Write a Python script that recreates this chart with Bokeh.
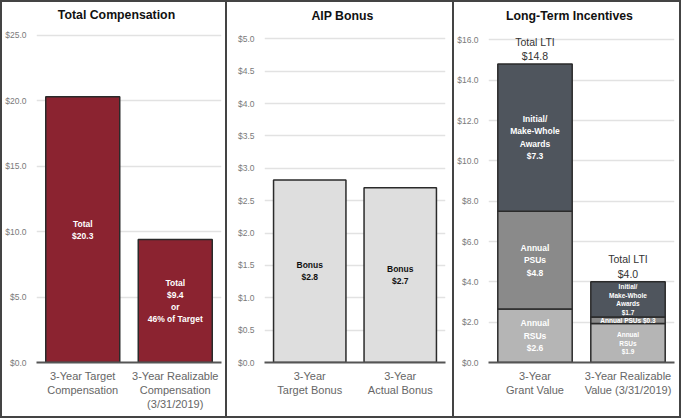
from bokeh.plotting import figure
from bokeh.layouts import row
from bokeh.models import Range1d, FixedTicker, NumeralTickFormatter, ColumnDataSource, Label, FactorRange
from bokeh.core.properties import value
from bokeh.embed import file_html
from bokeh.resources import INLINE

FONT = "Liberation Sans"

# ---- Panel 1: Total Compensation ----
comp_title = "Total Compensation"
comp_cats = ["3-Year Target\nCompensation", "3-Year Realizable\nCompensation\n(3/31/2019)"]
comp_values = [20.3, 9.4]
comp_labels = ["Total\n$20.3", "Total\n$9.4\nor\n46% of Target"]
comp_ticks = [0, 5, 10, 15, 20, 25]

# ---- Panel 2: AIP Bonus ----
aip_title = "AIP Bonus"
aip_cats = ["3-Year\nTarget Bonus", "3-Year\nActual Bonus"]
aip_values = [2.82, 2.70]
aip_labels = ["Bonus\n$2.8", "Bonus\n$2.7"]
aip_ticks = [0, 0.5, 1.0, 1.5, 2.0, 2.5, 3.0, 3.5, 4.0, 4.5, 5.0]

# ---- Panel 3: Long-Term Incentives ----
lti_title = "Long-Term Incentives"
lti_cats = ["3-Year\nGrant Value", "3-Year Realizable\nValue (3/31/2019)"]
lti_rsu = [2.65, 1.93]
lti_psu = [4.85, 0.33]
lti_initial = [7.3, 1.74]
lti_rsu_labels = ["Annual\nRSUs\n$2.6", "Annual\nRSUs\n$1.9"]
lti_psu_labels = ["Annual\nPSUs\n$4.8", "Annual PSUs $0.3"]
lti_initial_labels = ["Initial/\nMake-Whole\nAwards\n$7.3", "Initial/\nMake-Whole\nAwards\n$1.7"]
lti_total_labels = ["Total LTI\n$14.8", "Total LTI\n$4.0"]
lti_ticks = [0, 2, 4, 6, 8, 10, 12, 14, 16]

H = 418
BW = 2
BORDER = "%dpx solid #444" % BW
TITLE_Y = 13


def make_panel(title, cats, ymax, ticks, w, bl, br, top_px, bb, title_cx, first):
    inner_w = w - (2 * BW if first else BW)
    inner_h = H - 2 * BW
    frame_h = inner_h - bb
    y_end = ymax + ymax * top_px / (frame_h - top_px)
    p = figure(width=w, height=H, x_range=FactorRange(*cats), y_range=Range1d(0, y_end),
               output_backend="svg", toolbar_location=None,
               min_border_left=bl, min_border_right=br, min_border_top=0, min_border_bottom=bb)
    p.styles = ({"border": BORDER} if first else
                {"border-top": BORDER, "border-right": BORDER, "border-bottom": BORDER})
    p.outline_line_color = None
    p.x_range.range_padding = 0
    p.xgrid.grid_line_color = None
    p.ygrid.grid_line_color = "#e2e2e2"
    p.ygrid.grid_line_width = 1.5
    p.yaxis.ticker = FixedTicker(ticks=ticks)
    p.yaxis.formatter = NumeralTickFormatter(format="$0.0")
    p.yaxis.axis_line_color = None
    p.yaxis.major_tick_line_color = None
    p.yaxis.minor_tick_line_color = None
    p.yaxis.major_label_text_font = FONT
    p.yaxis.major_label_text_font_size = "8.5px"
    p.yaxis.major_label_text_color = "#7a7a7a"
    p.yaxis.major_label_standoff = 4
    p.xaxis.axis_line_color = "#555555"
    p.xaxis.axis_line_width = 2
    p.xaxis.major_tick_line_color = None
    p.xaxis.major_label_text_font = FONT
    p.xaxis.major_label_text_font_size = "11px"
    p.xaxis.major_label_text_color = "#666666"
    p.xaxis.major_label_standoff = 1
    frame_cx = bl + (inner_w - bl - br) / 2
    p.add_layout(Label(x=1.0, y=ymax, x_offset=title_cx - frame_cx, y_offset=top_px - TITLE_Y,
                       text=title, text_font=FONT, text_font_size="12.3px", text_font_style="bold",
                       text_align="center", text_baseline="middle", text_color="#111111"))
    return p


# Panel 1
p1 = make_panel(comp_title, comp_cats, 25, comp_ticks, 227, 32, 8, 33, 52, 111, True)
src1 = ColumnDataSource(dict(x=comp_cats, top=comp_values, lab=comp_labels,
                             mid=[v / 2 for v in comp_values]))
p1.vbar(x="x", top="top", width=0.8, source=src1, fill_color="#8B2330",
        line_color="#2a2a2a", line_width=1.5)
p1.text(x="x", y="mid", text="lab", source=src1, text_font=value(FONT), text_font_size="8.5px",
        text_font_style="bold", text_color="white", text_align="center", text_baseline="middle",
        text_line_height=1.2)

# Panel 2
p2 = make_panel(aip_title, aip_cats, 5, aip_ticks, 227, 37, 9, 36, 57, 114, False)
src2 = ColumnDataSource(dict(x=aip_cats, top=aip_values, lab=aip_labels,
                             mid=[v / 2 for v in aip_values]))
p2.vbar(x="x", top="top", width=0.8, source=src2, fill_color="#DEDEDE",
        line_color="#2a2a2a", line_width=1.5)
p2.text(x="x", y="mid", text="lab", source=src2, text_font=value(FONT), text_font_size="8.5px",
        text_font_style="bold", text_color="#111111", text_align="center", text_baseline="middle",
        text_line_height=1.2)

# Panel 3
p3 = make_panel(lti_title, lti_cats, 16, lti_ticks, 227, 33, 7, 37, 58, 113.5, False)
tot = [a + b + c for a, b, c in zip(lti_rsu, lti_psu, lti_initial)]
src3 = ColumnDataSource(dict(x=lti_cats, rsu=lti_rsu, psu=lti_psu, initial=lti_initial,
                             rsu_mid=[r / 2 for r in lti_rsu],
                             psu_mid=[r + p / 2 for r, p in zip(lti_rsu, lti_psu)],
                             ini_mid=[r + p + i / 2 for r, p, i in zip(lti_rsu, lti_psu, lti_initial)],
                             tot=tot,
                             rsu_lab=lti_rsu_labels, psu_lab=lti_psu_labels,
                             ini_lab=lti_initial_labels, tot_lab=lti_total_labels,
                             fs=["8.5px", "6.5px"]))
p3.vbar_stack(["rsu", "psu", "initial"], x="x", width=0.8, source=src3,
              fill_color=["#B5B5B5", "#8A8A8A", "#4F555D"], line_color="#2a2a2a", line_width=1.5)
for col in ["rsu", "psu", "ini"]:
    p3.text(x="x", y=col + "_mid", text=col + "_lab", source=src3, text_font=value(FONT),
            text_font_size="fs", text_font_style="bold", text_color="white",
            text_align="center", text_baseline="middle", text_line_height=1.25)
p3.text(x="x", y="tot", text="tot_lab", source=src3, text_font=value(FONT), text_font_size="10.5px",
        text_color="#333333", text_align="center", text_baseline="bottom", y_offset=-2,
        text_line_height=1.2)

layout = row(p1, p2, p3)
open("out.html", "w").write(file_html(layout, INLINE))
